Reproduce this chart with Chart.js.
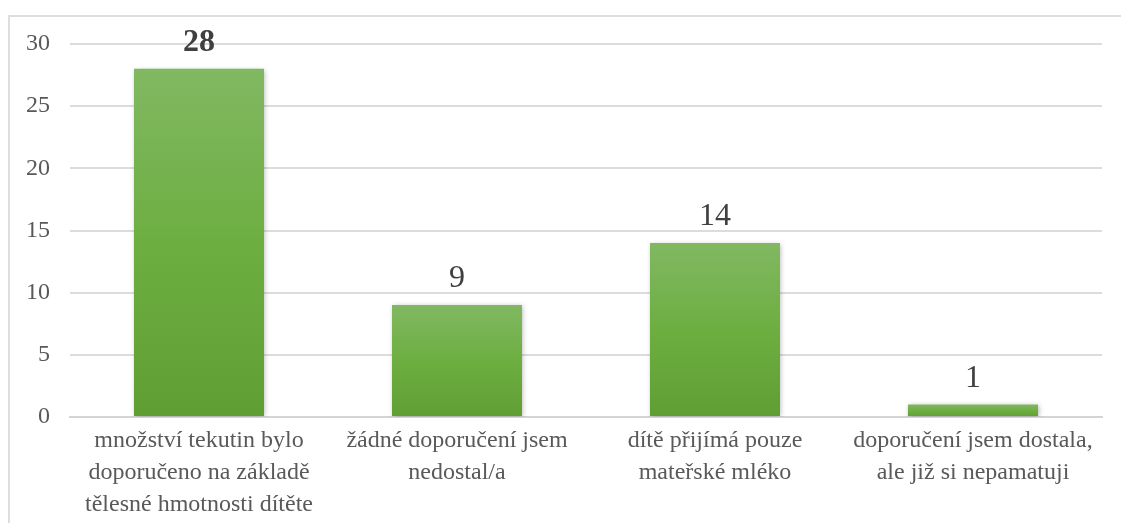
<!DOCTYPE html>
<html>
<head>
<meta charset="utf-8">
<script src="https://cdn.jsdelivr.net/npm/chart.js@4"></script>
<style>
  html, body { margin: 0; padding: 0; background: #fff; }
  #wrap { position: relative; width: 1121px; height: 523px; overflow: hidden; }
  #frame { position: absolute; left: 8px; top: 15px; width: 1200px; height: 600px;
           border-left: 2px solid #dedede; border-top: 2px solid #dedede; }
  canvas { position: absolute; left: 0; top: 0; }
</style>
</head>
<body>
<div id="wrap">
  <div id="frame"></div>
  <canvas id="myChart" width="1121" height="523"></canvas>
</div>
<script>
// data
const categories = [
  ['množství tekutin bylo', 'doporučeno na základě', 'tělesné hmotnosti dítěte'],
  ['žádné doporučení jsem', 'nedostal/a'],
  ['dítě přijímá pouze', 'mateřské mléko'],
  ['doporučení jsem dostala,', 'ale již si nepamatuji']
];
const counts = [28, 9, 14, 1];
const yTicks = [0, 5, 10, 15, 20, 25, 30];

const serif = '"Liberation Serif", "Times New Roman", serif';

// gradient per bar, top lighter -> bottom darker
function barFill(context) {
  const chart = context.chart;
  const y = chart.scales.y;
  if (!y || context.parsed === undefined) return '#6cad3f';
  const top = y.getPixelForValue(context.parsed.y);
  const bottom = y.getPixelForValue(0);
  if (!isFinite(top) || !isFinite(bottom) || top === bottom) return '#6cad3f';
  const g = chart.ctx.createLinearGradient(0, top, 0, bottom);
  g.addColorStop(0, '#81b862');
  g.addColorStop(0.5, '#6dae41');
  g.addColorStop(1, '#5f9e33');
  return g;
}

const barShadow = {
  id: 'barShadow',
  beforeDatasetsDraw(chart) {
    const ctx = chart.ctx;
    ctx.save();
    ctx.shadowColor = 'rgba(0,0,0,0.28)';
    ctx.shadowBlur = 5;
    ctx.shadowOffsetX = 1;
    ctx.shadowOffsetY = 1;
  },
  afterDatasetsDraw(chart) {
    chart.ctx.restore();
  }
};

const valueLabels = {
  id: 'valueLabels',
  afterDatasetsDraw(chart) {
    const ctx = chart.ctx;
    const meta = chart.getDatasetMeta(0);
    ctx.save();
    ctx.textAlign = 'center';
    ctx.textBaseline = 'alphabetic';
    ctx.fillStyle = '#404040';
    meta.data.forEach((bar, i) => {
      const v = counts[i];
      const isMax = v === Math.max(...counts);
      ctx.font = (isMax ? 'bold ' : '') + '32px ' + serif;
      ctx.fillText(String(v), bar.x, bar.y - 18);
    });
    ctx.restore();
  }
};

const ctx = document.getElementById('myChart').getContext('2d');
const myChart = new Chart(ctx, {
  type: 'bar',
  data: {
    labels: categories,
    datasets: [{
      data: counts,
      backgroundColor: barFill,
      borderWidth: 0,
      categoryPercentage: 1,
      barPercentage: 0.504
    }]
  },
  options: {
    responsive: false,
    animation: false,
    layout: { padding: { top: 44, right: 19, left: 0, bottom: 0 } },
    plugins: { legend: { display: false }, tooltip: { enabled: false } },
    scales: {
      x: {
        grid: { display: false, drawTicks: false },
        border: { display: true, color: '#d4d4d4', width: 2 },
        ticks: {
          color: '#595959',
          font: { family: serif, size: 24, lineHeight: 1.33 },
          padding: 8,
          maxRotation: 0,
          autoSkip: false
        },
        afterFit(scale) { scale.height = 106; }
      },
      y: {
        min: 0,
        max: 30,
        afterBuildTicks(scale) { scale.ticks = yTicks.map(v => ({ value: v })); },
        grid: { color: '#dcdcdc', lineWidth: 2, drawTicks: false },
        border: { display: false },
        ticks: {
          color: '#595959',
          font: { family: serif, size: 24 },
          padding: 20
        },
        afterFit(scale) { scale.width = 70; }
      }
    }
  },
  plugins: [barShadow, valueLabels]
});
</script>
</body>
</html>
